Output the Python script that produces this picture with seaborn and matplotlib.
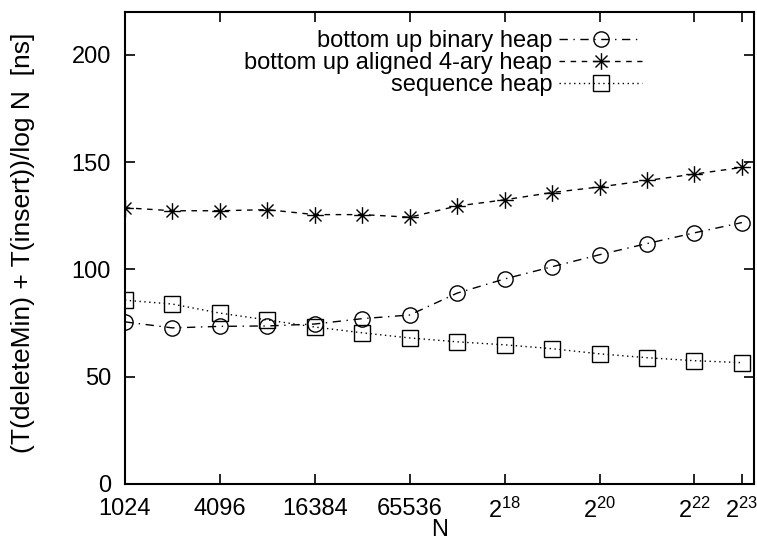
import numpy as np
import pandas as pd
import matplotlib
matplotlib.use('Agg')
import matplotlib.pyplot as plt
from matplotlib.path import Path
import seaborn as sns

# data
n_values = [2 ** k for k in range(10, 24)]
binary_heap = [75.5, 72.7, 73.4, 73.6, 74.5, 77.0, 78.7, 88.9, 95.5, 101.2, 106.8, 112.0, 117.0, 121.8]
aligned_4ary = [128.7, 127.3, 127.3, 127.8, 125.5, 125.5, 124.3, 129.5, 132.4, 135.8, 138.4, 141.4, 144.4, 147.5]
sequence_heap = [85.6, 83.8, 79.6, 76.4, 73.1, 70.4, 68.0, 66.2, 64.8, 63.0, 60.6, 58.8, 57.4, 56.5]

tick_pos = [1024, 4096, 16384, 65536, 2 ** 18, 2 ** 20, 2 ** 22, 2 ** 23]
tick_labels = ['1024', '4096', '16384', '65536', '$2^{18}$', '$2^{20}$', '$2^{22}$', '$2^{23}$']

sns.set_style('ticks')
plt.rcParams['font.family'] = ['Liberation Sans', 'DejaVu Sans']
plt.rcParams['mathtext.default'] = 'regular'
plt.rcParams['font.size'] = 17
for key in ['text.color', 'axes.labelcolor', 'xtick.color', 'ytick.color', 'axes.edgecolor']:
    plt.rcParams[key] = 'black'

# gnuplot style asterisk marker (+ and x)
d = 0.72
star = Path([(-1, 0), (1, 0), (0, -1), (0, 1), (-d, -d), (d, d), (-d, d), (d, -d)],
            [Path.MOVETO, Path.LINETO] * 4)

fig, ax = plt.subplots(figsize=(7.57, 5.40), dpi=100)
fig.subplots_adjust(left=0.165, right=0.996, bottom=0.104, top=0.978)

series = [
    ('bottom up binary heap', binary_heap, 'o', (0, (6, 4, 1, 4)), 11),
    ('bottom up aligned 4-ary heap', aligned_4ary, star, (0, (4, 4)), 12),
    ('sequence heap', sequence_heap, 's', (0, (1, 2.5)), 11),
]
for name, vals, mk, ls, ms in series:
    df = pd.DataFrame({'N': n_values, 'ns': vals})
    sns.lineplot(data=df, x='N', y='ns', ax=ax, color='black', linewidth=1,
                 linestyle=ls, marker=mk, markersize=ms, markerfacecolor='none',
                 markeredgecolor='black', markeredgewidth=1, label=name)

ax.set_xscale('log', base=2)
ax.set_xlim(1024, 1e7)
ax.set_ylim(0, 220)
ax.set_xticks(tick_pos)
ax.set_xticklabels(tick_labels)
ax.xaxis.set_minor_locator(matplotlib.ticker.NullLocator())
ax.set_yticks([0, 50, 100, 150, 200])
ax.tick_params(direction='in', length=7, width=1.2, top=True, right=True, labelsize=17, pad=10,
               colors='black')
for sp in ax.spines.values():
    sp.set_linewidth(1.5)
    sp.set_color('black')
    sp.set_visible(True)

ax.set_xlabel('N', fontsize=17, labelpad=-3)
ax.set_ylabel('(T(deleteMin) + T(insert))/log N  [ns]', fontsize=19)
ax.yaxis.set_label_coords(-0.143, 0.51)

ax.legend(loc='upper right', bbox_to_anchor=(0.822, 0.962), frameon=False, markerfirst=False,
          handlelength=3.5, handletextpad=0.3, labelspacing=0.0, borderpad=0, borderaxespad=0,
          fontsize=17)

fig.savefig('out.png', dpi=100)
